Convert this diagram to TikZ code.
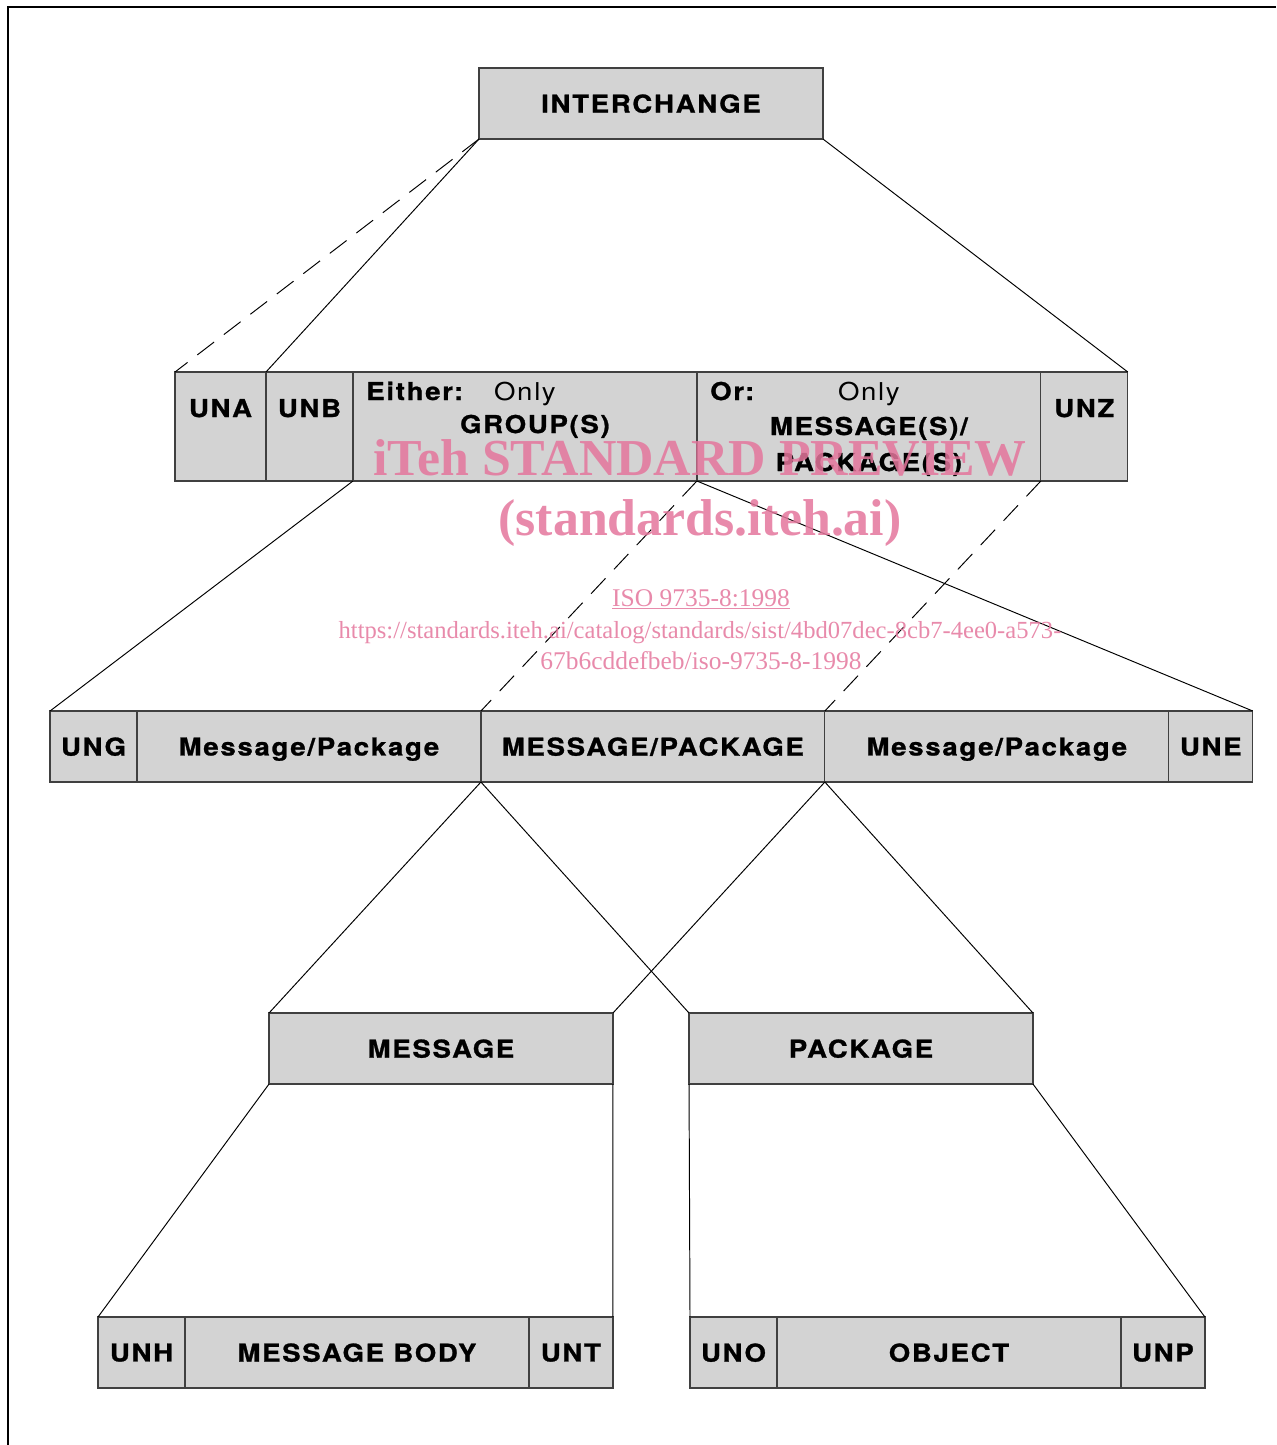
\documentclass[tikz,border=0pt]{standalone}
\usepackage{fontspec}
\usetikzlibrary{positioning}
\newfontfamily\lblfont[LetterSpace=7,FakeStretch=1.12,BoldFeatures={FakeBold=1}]{TeX Gyre Heros}
\newfontfamily\wmfont{Liberation Serif}
\definecolor{boxgray}{RGB}{211,211,211}
\definecolor{wmpink}{RGB}{228,118,156}

\begin{document}
\begin{tikzpicture}[x=0.02cm,y=-0.02cm,
   seg/.style={draw=black!75,line width=0.7pt,fill=boxgray,outer sep=0pt,inner sep=0pt,
               minimum height=1.42cm,text depth=0pt,font=\lblfont\bfseries\fontsize{14}{16}\selectfont},
   smallseg/.style={seg,minimum width=1.74cm},
   endseg/.style={seg,minimum width=1.68cm},
   bigseg/.style={seg,minimum width=6.88cm},
   tallseg/.style={minimum height=2.18cm},
   txt/.style={font=\lblfont\bfseries\fontsize{14}{16}\selectfont,inner sep=0pt,anchor=base},
   link/.style={draw=black,line width=0.55pt},
   gap/.style={dash pattern=on 12pt off 7pt},
   wm/.style={text=wmpink,text opacity=0.85,inner sep=0pt,anchor=base}]
   \useasboundingbox (0,0) rectangle (1276,1445);
   \draw[line width=1.4pt] (7,7) -- (1276,7);
   \draw[line width=1.4pt] (8,7) -- (8,1445);

   % interchange
   \node[bigseg] (ich) at (651,103.5) {INTERCHANGE};

   % service segments and groups
   \node[smallseg,tallseg,minimum width=1.82cm] (una) at (220.5,426.5) {};
   \node[smallseg,tallseg] (unb) [right=0pt of una] {};
   \node[bigseg,tallseg] (either) [right=0pt of unb] {};
   \node[bigseg,tallseg] (or) [right=0pt of either] {};
   \node[smallseg,tallseg] (unz) [right=0pt of or] {};
   \node[txt] at ([yshift=-0.90cm]una.north) {UNA};
   \node[txt] at ([yshift=-0.90cm]unb.north) {UNB};
   \node[txt] at ([yshift=-0.90cm]unz.north) {UNZ};
   \node[txt,anchor=base west] at ([xshift=0.26cm,yshift=-0.56cm]either.north west) {Either:};
   \node[txt,font=\lblfont\fontsize{14}{16}\selectfont] at ([yshift=-0.56cm]either.north) {Only};
   \node[txt] at ([xshift=0.2cm,yshift=-1.22cm]either.north) {GROUP(S)};
   \node[txt,anchor=base west] at ([xshift=0.26cm,yshift=-0.56cm]or.north west) {Or:};
   \node[txt,font=\lblfont\fontsize{14}{16}\selectfont] at ([yshift=-0.56cm]or.north) {Only};
   \node[txt] at ([yshift=-1.26cm]or.north) {MESSAGE(S)/};
   \node[txt] at ([yshift=-1.98cm]or.north) {PACKAGE(S)};

   % functional group
   \node[smallseg] (ung) at (93.5,746.5) {UNG};
   \node[bigseg] (mpa) [right=0pt of ung] {Message/Package};
   \node[bigseg] (mp) [right=0pt of mpa] {MESSAGE/PACKAGE};
   \node[bigseg] (mpb) [right=0pt of mp] {Message/Package};
   \node[endseg] (une) [right=0pt of mpb] {UNE};

   % message and package
   \node[bigseg] (msg) at (441,1048.5) {MESSAGE};
   \node[bigseg] (pkg) at (861,1048.5) {PACKAGE};

   \node[smallseg] (unh) at (141.5,1352.5) {UNH};
   \node[bigseg] (body) [right=0pt of unh] {MESSAGE BODY};
   \node[endseg] (unt) [right=0pt of body] {UNT};

   \node[smallseg] (uno) at (733.5,1352.5) {UNO};
   \node[bigseg] (obj) [right=0pt of uno] {OBJECT};
   \node[endseg] (unp) [right=0pt of obj] {UNP};

   \path[link]
   (ich.south west) edge[gap] (una.north west)
                    edge (unb.north west)
   (ich.south east) edge (unz.north east)
   (either.south west) edge (ung.north west)
   (either.south east) edge (une.north east)
                       edge[gap] (mp.north west)
   (or.south east) edge[gap] (mp.north east)
   (mp.south west) edge (msg.north west)
                   edge (pkg.north west)
   (mp.south east) edge (msg.north east)
                   edge (pkg.north east)
   (msg.south west) edge (unh.north west)
   (msg.south east) edge (unt.north east)
   (pkg.south west) edge (uno.north west)
   (pkg.south east) edge (unp.north east);

   % watermark
   \node[wm,font=\wmfont\bfseries\fontsize{29.5}{31}\selectfont] (wmA) at (700,475) {iTeh STANDARD PREVIEW};
   \node[wm,font=\wmfont\bfseries\fontsize{29.5}{31}\selectfont] (wmB) at (700,535) {(standards.iteh.ai)};
   \node[wm,font=\wmfont\fontsize{14.5}{16}\selectfont] (wmC) at (701,606) {\underline{ISO 9735-8:1998}};
   \node[wm,font=\wmfont\fontsize{14}{16}\selectfont] (wmD) at (700,638) {https://standards.iteh.ai/catalog/standards/sist/4bd07dec-8cb7-4ee0-a573-};
   \node[wm,font=\wmfont\fontsize{14.5}{16}\selectfont] (wmE) at (701,669) {67b6cddefbeb/iso-9735-8-1998};
\end{tikzpicture}
\end{document}
